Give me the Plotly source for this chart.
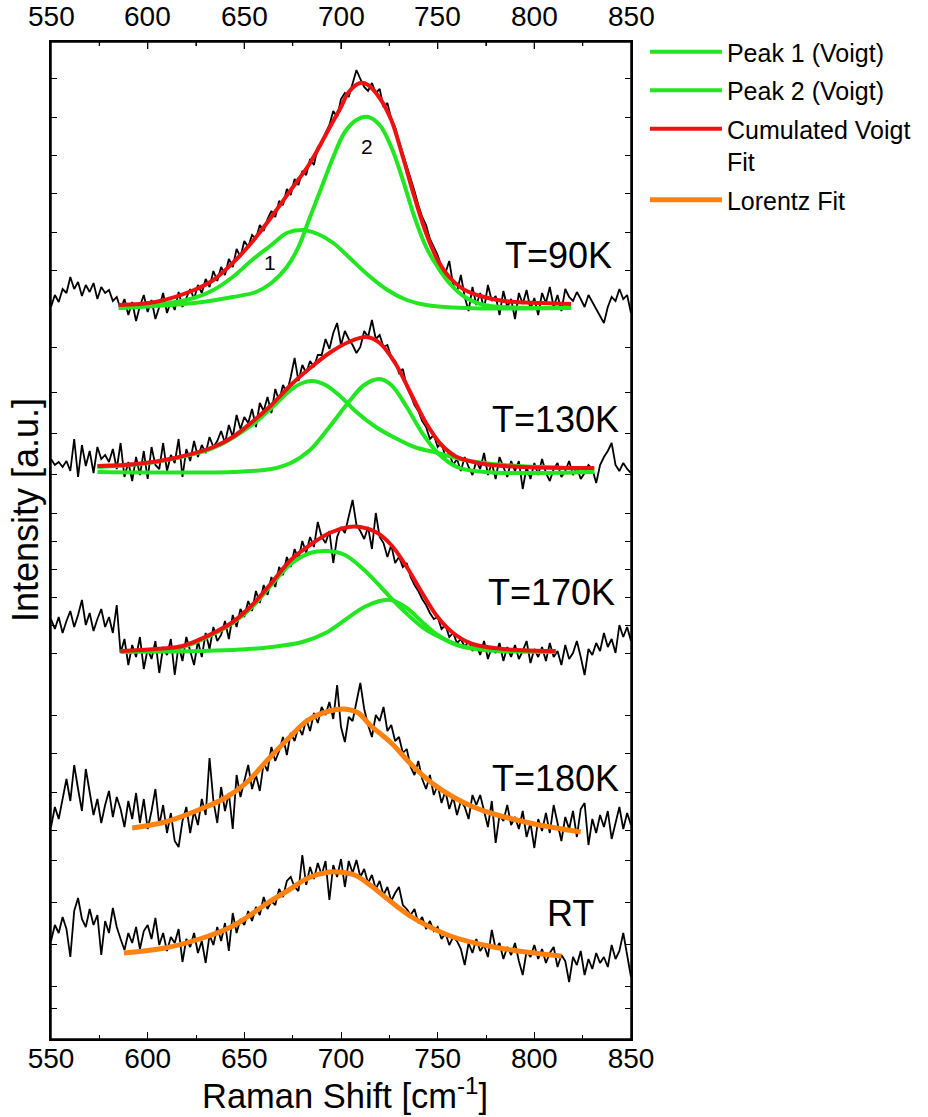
import plotly.graph_objects as go

# ---------------- data ----------------
RAMAN_SHIFT = list(range(550, 852, 2))  # measurement grid, cm-1

# raw spectra (stacked, arbitrary units incl. vertical offset)
RAW_90K = [
    730, 742, 735, 748, 744, 760, 748, 755, 741, 752,
    745, 754, 738, 750, 744, 747, 736, 740, 728, 738,
    722, 735, 716, 731, 742, 725, 737, 718, 730, 744,
    724, 736, 727, 745, 730, 740, 748, 738, 752, 744,
    758, 750, 766, 756, 770, 762, 778, 770, 788, 780,
    796, 790, 802, 798, 812, 806, 818, 826, 820, 836,
    832, 848, 842, 858, 852, 866, 862, 878, 872, 890,
    894, 904, 912, 926, 920, 938, 944, 940, 955, 967,
    958, 950, 946, 954, 944, 948, 930, 934, 918, 910,
    896, 884, 870, 858, 846, 832, 820, 812, 798, 790,
    782, 770, 764, 776, 752, 745, 762, 740, 726, 750,
    732, 744, 728, 752, 736, 741, 722, 746, 730, 738,
    718, 744, 733, 747, 728, 739, 722, 744, 734, 750,
    730, 742, 726, 748, 740, 736, 745, 738, 730, 742,
    735, 728, 720, 714, 730, 740, 736, 748, 738, 742,
    724,
]
RAW_130K = [
    578, 572, 575, 570, 576, 566, 598, 560, 592, 571,
    586, 564, 590, 578, 582, 575, 588, 568, 594, 560,
    575, 556, 580, 562, 586, 558, 590, 572, 568, 594,
    566, 582, 574, 598, 560, 588, 576, 596, 580, 592,
    584, 600, 590, 596, 606, 594, 612, 600, 622, 608,
    620, 614, 628, 610, 634, 626, 640, 624, 648, 636,
    652, 644, 660, 679, 656, 672, 664, 676, 670, 682,
    682, 698, 688, 704, 714, 692, 706, 698, 692, 684,
    690, 706, 700, 717, 698, 702, 690, 692, 680, 676,
    664, 668, 650, 642, 632, 626, 616, 610, 598, 602,
    590, 594, 580, 584, 572, 578, 566, 580, 570, 562,
    576, 568, 584, 562, 574, 558, 580, 570, 560, 576,
    566, 576, 548, 570, 558, 574, 562, 578, 564, 556,
    568, 574, 560, 566, 576, 562, 570, 558, 564, 572,
    568, 554, 572, 580, 586, 594, 572, 566, 574, 568,
    564,
]
RAW_170K = [
    418, 408, 420, 404, 416, 426, 410, 422, 437, 412,
    424, 406, 418, 428, 410, 420, 404, 432, 384, 398,
    372, 392, 380, 400, 368, 388, 378, 396, 364, 390,
    382, 398, 362, 392, 376, 400, 386, 372, 396, 380,
    404, 388, 410, 396, 402, 416, 398, 422, 410, 428,
    420, 436, 426, 446, 434, 452, 442, 460, 450, 470,
    462, 480, 470, 488, 478, 496, 484, 500, 490, 515,
    500, 494, 506, 474, 500, 510, 504, 520, 537, 512,
    506, 498, 510, 488, 524, 500, 494, 480, 492, 474,
    480, 470, 474, 460, 452, 446, 438, 432, 424, 418,
    420, 408, 412, 400, 404, 394, 398, 390, 396, 386,
    392, 382, 396, 378, 390, 384, 394, 376, 390, 380,
    392, 378, 386, 396, 374, 388, 380, 390, 376, 394,
    380, 386, 372, 392, 378, 384, 396, 380, 362, 388,
    382, 394, 386, 404, 390, 398, 384, 412, 400, 410,
    396,
]
RAW_180K = [
    210, 230, 218, 240, 258, 236, 272, 248, 226, 268,
    244, 222, 238, 214, 232, 246, 220, 240, 228, 210,
    236, 218, 244, 214, 238, 208, 226, 248, 212, 232,
    204, 224, 196, 190, 216, 230, 204, 226, 212, 238,
    222, 279, 236, 214, 250, 226, 244, 208, 262, 240,
    256, 272, 248, 262, 246, 274, 266, 290, 276, 286,
    300, 282, 304, 296, 310, 302, 318, 306, 324, 314,
    330, 322, 335, 318, 352, 310, 295, 320, 316, 336,
    354, 328, 312, 300, 322, 316, 330, 306, 312, 296,
    300, 284, 288, 270, 262, 276, 258, 248, 262, 242,
    252, 234, 246, 228, 240, 222, 236, 230, 218, 242,
    232, 242, 226, 210, 236, 194, 222, 216, 232, 212,
    220, 208, 226, 200, 214, 189, 218, 206, 224, 204,
    232, 214, 196, 220, 208, 226, 200, 228, 234, 192,
    218, 204, 222, 210, 226, 198, 214, 230, 208, 224,
    212,
]
RAW_RT = [
    96, 112, 104, 120, 108, 80, 126, 139, 118, 110,
    128, 112, 122, 82, 116, 104, 129, 110, 98, 87,
    104, 94, 110, 88, 106, 112, 98, 119, 92, 104,
    86, 100, 94, 108, 75, 98, 90, 104, 84, 96,
    74, 102, 92, 110, 96, 114, 86, 124, 104, 118,
    112, 126, 116, 130, 122, 140, 128, 136, 132, 148,
    140, 156, 160, 150, 146, 182, 152, 170, 158, 174,
    162, 176, 137, 172, 160, 178, 150, 176, 164, 177,
    160, 168, 154, 162, 148, 156, 142, 150, 136, 144,
    150, 132, 128, 122, 128, 114, 120, 108, 116, 106,
    110, 98, 104, 92, 100, 96, 88, 72, 94, 84,
    98, 86, 92, 80, 107, 88, 94, 78, 90, 82,
    94, 76, 62, 86, 80, 92, 78, 88, 74, 84,
    90, 70, 82, 76, 55, 80, 72, 86, 62, 78,
    68, 84, 74, 80, 70, 92, 78, 86, 104, 82,
    60,
]

# fitted curves
P1_90K_X = [585, 604, 624, 634, 644, 654, 664, 672, 680, 688, 696, 704, 714, 724, 734, 744, 764, 819]
P1_90K_Y = [729, 732, 739, 747, 760, 777, 792, 804, 807, 803, 794, 780, 762, 747, 737, 732, 729, 729]
P2_90K_X = [585, 624, 644, 656, 664, 672, 678, 684, 690, 696, 702, 708, 714, 720, 726, 732, 738, 744, 750, 756, 764, 774, 784, 819]
P2_90K_Y = [729, 734, 740, 745, 754, 770, 790, 820, 850, 880, 905, 917, 920, 912, 890, 857, 820, 790, 770, 754, 740, 732, 730, 729]
CUM_90K_X = [585, 604, 624, 634, 644, 654, 664, 674, 684, 694, 700, 704, 710, 714, 720, 726, 732, 738, 744, 750, 756, 764, 774, 784, 804, 819]
CUM_90K_Y = [732, 735, 747, 757, 774, 795, 820, 847, 874, 909, 930, 945, 954, 952, 939, 917, 880, 840, 804, 777, 760, 747, 740, 736, 734, 733]

P1_130K_X = [574, 604, 634, 654, 664, 674, 680, 685, 692, 700, 708, 718, 728, 738, 750, 764, 784, 831]
P1_130K_Y = [570, 575, 589, 612, 629, 647, 654, 656, 652, 640, 625, 610, 599, 590, 584, 577, 572, 568]
P2_130K_X = [574, 644, 664, 674, 684, 694, 704, 712, 720, 726, 734, 742, 750, 760, 774, 831]
P2_130K_Y = [565, 565, 568, 574, 587, 610, 635, 652, 658, 652, 630, 604, 584, 570, 565, 565]
CUM_130K_X = [574, 594, 614, 634, 644, 654, 664, 674, 684, 694, 704, 713, 720, 728, 736, 744, 752, 760, 774, 794, 831]
CUM_130K_Y = [571, 573, 579, 590, 600, 615, 632, 652, 669, 684, 695, 700, 694, 674, 644, 614, 592, 580, 573, 570, 569]

P1_170K_X = [586, 618, 634, 644, 654, 664, 674, 684, 693, 702, 712, 722, 732, 742, 752, 764, 784, 811]
P1_170K_Y = [386, 390, 403, 414, 430, 452, 473, 484, 486, 482, 467, 447, 427, 410, 399, 390, 387, 386]
P2_170K_X = [586, 644, 664, 680, 692, 702, 712, 720, 726, 734, 742, 750, 760, 774, 811]
P2_170K_Y = [385, 387, 390, 395, 404, 417, 430, 436, 437, 429, 415, 402, 392, 387, 385]
CUM_170K_X = [586, 604, 618, 634, 644, 654, 664, 674, 684, 694, 704, 710, 718, 726, 734, 742, 750, 758, 768, 784, 811]
CUM_170K_Y = [386, 388, 391, 404, 415, 432, 454, 477, 492, 504, 510, 510, 505, 492, 470, 444, 420, 404, 393, 388, 386]

LOR_180K_X = [592, 609, 630, 641, 651.5, 662, 673, 683, 694, 701.5, 709, 715, 726, 736.6, 747, 758, 768.5, 779, 800, 824]
LOR_180K_Y = [209, 215, 230, 240, 255, 277, 299, 317, 326, 328, 324, 312, 294, 272, 254, 240, 230, 223, 213, 205]
LOR_RT_X = [587.7, 609, 630, 643, 651.5, 662, 673, 683, 694, 698, 707, 715, 726, 736.6, 747, 758, 779, 800, 814]
LOR_RT_Y = [84, 89, 100, 110, 120, 134, 147, 159, 165, 165, 162, 152, 135, 120, 109, 100, 90, 84, 81]

PANEL_LABELS = ["T=90K", "T=130K", "T=170K", "T=180K", "RT"]
PANEL_LABEL_X = [841, 845, 843, 845, 832]
PANEL_LABEL_Y = [782, 618, 445, 259, 124]
PEAK_TAGS = ["1", "2"]
PEAK_TAG_X = [663.5, 713.5]
PEAK_TAG_Y = [775, 891]

X_TICKS = [550, 600, 650, 700, 750, 800, 850]
X_MINOR = [575, 625, 675, 725, 775, 825]
Y_TICKS = [959, 920, 882, 844, 805, 767, 690, 645, 604, 563, 524, 496, 468, 440, 412, 384,
           322, 284, 245, 207, 177, 135, 93, 51, 29]

# ---------------- style ----------------
GREEN = "#22e622"
RED = "#ee1111"
ORANGE = "#ff8210"
FONT = "Arial, Liberation Sans, sans-serif"
FIT_W = 4

fig = go.Figure()

for raw in [RAW_90K, RAW_130K, RAW_170K, RAW_180K, RAW_RT]:
    fig.add_trace(go.Scatter(x=RAMAN_SHIFT, y=raw, mode="lines",
                             line=dict(color="black", width=1.8),
                             showlegend=False, hoverinfo="skip"))

voigt_sets = [
    (P1_90K_X, P1_90K_Y, P2_90K_X, P2_90K_Y, CUM_90K_X, CUM_90K_Y),
    (P1_130K_X, P1_130K_Y, P2_130K_X, P2_130K_Y, CUM_130K_X, CUM_130K_Y),
    (P1_170K_X, P1_170K_Y, P2_170K_X, P2_170K_Y, CUM_170K_X, CUM_170K_Y),
]
for i, (p1x, p1y, p2x, p2y, cx, cy) in enumerate(voigt_sets):
    first = i == 0
    fig.add_trace(go.Scatter(x=p1x, y=p1y, mode="lines", line=dict(color=GREEN, width=FIT_W, shape="spline"),
                             name="Peak 1 (Voigt)", legendgroup="p1", showlegend=first, legendrank=1))
    fig.add_trace(go.Scatter(x=p2x, y=p2y, mode="lines", line=dict(color=GREEN, width=FIT_W, shape="spline"),
                             name="Peak 2 (Voigt)", legendgroup="p2", showlegend=first, legendrank=2))
for i, (p1x, p1y, p2x, p2y, cx, cy) in enumerate(voigt_sets):
    fig.add_trace(go.Scatter(x=cx, y=cy, mode="lines", line=dict(color=RED, width=FIT_W, shape="spline"),
                             name="Cumulated Voigt<br>Fit", legendgroup="cum", showlegend=(i == 0), legendrank=3))

for i, (lx, ly) in enumerate([(LOR_180K_X, LOR_180K_Y), (LOR_RT_X, LOR_RT_Y)]):
    fig.add_trace(go.Scatter(x=lx, y=ly, mode="lines", line=dict(color=ORANGE, width=FIT_W + 1, shape="spline"),
                             name="Lorentz Fit", legendgroup="lor", showlegend=(i == 0), legendrank=4))

for txt, x, y in zip(PANEL_LABELS, PANEL_LABEL_X, PANEL_LABEL_Y):
    fig.add_annotation(x=x, y=y, text=txt, showarrow=False, xanchor="right", yanchor="middle",
                       font=dict(family=FONT, size=36, color="black"))
for txt, x, y in zip(PEAK_TAGS, PEAK_TAG_X, PEAK_TAG_Y):
    fig.add_annotation(x=x, y=y, text=txt, showarrow=False, xanchor="center", yanchor="middle",
                       font=dict(family=FONT, size=21, color="black"))

# top axis tick labels (the frame's top edge repeats the x scale)
for v in X_TICKS:
    fig.add_annotation(x=v, xref="x", y=1.008, yref="paper", text=str(v), showarrow=False,
                       xanchor="center", yanchor="bottom", font=dict(family=FONT, size=28, color="black"))

# plot frame with inward ticks along the top edge
fig.add_shape(type="rect", xref="paper", yref="paper", x0=0, x1=1, y0=0, y1=1,
              line=dict(color="black", width=1.5), layer="above")
for v in X_TICKS[1:-1]:
    fig.add_shape(type="line", xref="x", yref="paper", x0=v, x1=v, y0=1, y1=1 - 7 / 997,
                  line=dict(color="black", width=1.3), layer="above")
for v in X_MINOR:
    fig.add_shape(type="line", xref="x", yref="paper", x0=v, x1=v, y0=1, y1=1 - 4 / 997,
                  line=dict(color="black", width=1.2), layer="above")

fig.add_annotation(xref="paper", yref="paper", x=-0.044, y=0.531, text="Intensity [a.u.]",
                   textangle=-90, showarrow=False, xanchor="center", yanchor="middle",
                   font=dict(family=FONT, size=36, color="black"))
fig.add_annotation(xref="paper", yref="paper", x=0.507, y=-0.078, text="Raman Shift [cm<sup>-1</sup>]",
                   showarrow=False, xanchor="center", yanchor="bottom",
                   font=dict(family=FONT, size=34.5, color="black"))

axis_common = dict(showgrid=False, zeroline=False, automargin=False)
fig.update_layout(
    width=928, height=1117,
    margin=dict(l=51, r=297, t=42, b=78, autoexpand=False),
    paper_bgcolor="white", plot_bgcolor="white",
    font=dict(family=FONT, color="black"),
    xaxis=dict(range=[550, 850], tickvals=X_TICKS, ticktext=[str(v) for v in X_TICKS],
               ticks="inside", ticklen=7, tickwidth=1.3, tickcolor="black",
               showline=True, linecolor="black", linewidth=1.5, mirror="allticks",
               tickfont=dict(size=28, family=FONT), ticklabelstandoff=-6,
               minor=dict(ticks="inside", ticklen=4, tickvals=X_MINOR, tickcolor="black", tickwidth=1.2),
               **axis_common),
    yaxis=dict(range=[-2, 995], tickvals=Y_TICKS, showticklabels=False,
               ticks="inside", ticklen=6, tickwidth=1.3, tickcolor="black",
               showline=True, linecolor="black", linewidth=1.5, mirror="ticks",
               **axis_common),
    legend=dict(x=1.024, y=1.013, xanchor="left", yanchor="top", valign="top",
                font=dict(size=25, family=FONT), itemwidth=72, tracegroupgap=3,
                bgcolor="rgba(0,0,0,0)"),
    showlegend=True,
)

fig.write_html("out.html", config={"displayModeBar": False},
               post_script="document.body.style.margin='0px';")
